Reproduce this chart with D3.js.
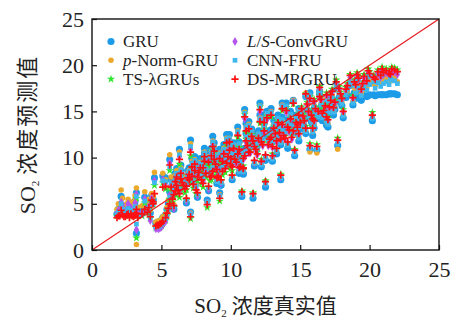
<!DOCTYPE html>
<html>
<head>
<meta charset="utf-8">
<script src="https://cdn.jsdelivr.net/npm/d3@7"></script>
<style>
  body { margin: 0; background: #fff; }
  svg { display: block; }
</style>
</head>
<body>
<svg id="chart" width="457" height="320"></svg>
<script>
// true SO2 concentration (shared by all models)
const true_vals = [
  1.8, 2.0, 2.1, 2.3, 2.5, 2.7, 2.8, 3.0, 3.1, 3.2, 3.2, 3.3,
  3.6, 3.8, 4.0, 4.2, 4.4, 4.4, 4.5, 4.7, 4.9, 5.1, 5.1, 5.4, 5.6,
  5.6, 5.8, 6.0, 6.1, 6.3, 6.3, 6.5, 6.7, 6.9, 7.0, 7.1, 7.1, 7.3, 7.5, 7.7, 7.9, 8.0, 8.1, 8.3, 8.5, 8.7, 8.7, 8.9, 9.1, 9.2, 9.4, 9.6, 9.8, 10.0,
  10.2, 10.4, 10.5, 10.7, 10.8, 11.0, 11.0, 11.2, 11.4, 11.6, 11.6, 11.8, 12.0, 12.1, 12.3, 12.5, 12.6, 12.8, 13.0, 13.2, 13.4, 13.6, 13.8, 14.0, 14.2, 14.4, 14.6, 14.8,
  15.0, 15.2, 15.4, 15.6, 15.7, 15.7, 15.9, 16.1, 16.2, 16.4, 16.6, 16.8, 17.0, 17.2, 17.4, 17.6, 17.7, 17.9, 18.1, 18.3, 18.6, 18.8,
  19.0, 19.2, 19.4, 19.6, 19.8, 20.0, 20.2, 20.4, 20.6, 20.8, 21.0, 21.2, 21.4, 21.6, 21.8, 22.0,
  1.9, 2.2, 2.4, 2.6, 2.9, 3.1,
  4.1, 4.3, 4.6, 4.8, 5.0, 5.3, 5.5,
  5.7, 5.9, 6.0, 6.2, 6.4, 6.6, 6.8, 7.0, 7.2, 7.4, 7.6, 7.8, 8.0, 8.2, 8.4, 8.6, 8.8, 9.0, 9.2, 9.4, 9.5, 9.7, 9.9, 10.0, 10.1,
  10.3, 10.6, 10.9, 11.1, 11.3, 11.5, 11.7, 11.9, 12.2, 12.4, 12.7, 12.9, 13.1, 13.3, 13.5, 13.7, 13.9, 14.1, 14.3, 14.5, 14.7, 14.9, 10.9, 12.2, 13.0,
  15.1, 15.3, 15.5, 15.8, 16.0, 16.3, 16.5, 16.7, 16.9, 17.1, 17.3, 17.5, 17.8, 18.0,
  18.4, 18.9, 19.1, 19.5, 19.9, 20.3, 20.9, 21.5,
  5.3, 5.9, 6.4, 6.8, 7.2, 7.6, 8.1, 8.4, 8.8, 9.3, 9.7, 10.1, 10.5, 10.9, 11.3, 11.7, 12.1, 12.5, 12.9, 13.3,
  13.7, 14.1, 14.5, 14.9, 15.4, 15.9, 16.4, 16.9, 6.1, 7.4, 8.6, 9.9, 11.1, 12.4, 13.6, 14.8, 16.0, 17.2, 9.0, 10.6
];

const gru = [
  3.9, 4.2, 5.8, 4.1, 4.4, 4.0, 4.5, 4.3, 4.8, 1.8, 6.2, 4.1,
  4.3, 5.7, 4.6, 4.0, 5.5, 5.3, 7.8, 3.0, 3.1, 3.5, 8.0, 4.4, 6.3,
  9.8, 6.3, 7.0, 7.6, 10.9, 6.8, 7.9, 7.4, 8.6, 8.9, 4.1, 11.9, 7.7, 7.2, 9.2, 8.5, 9.6, 10.5, 5.4, 8.7, 12.3, 9.4, 10.2, 8.9, 6.2, 10.5, 9.7, 11.1, 10.2,
  11.6, 10.3, 11.2, 9.8, 5.8, 15.2, 11.0, 12.0, 11.5, 5.6, 12.6, 11.8, 12.9, 15.9, 12.3, 6.8, 15.0, 12.9, 12.0, 13.4, 14.6, 7.6, 13.2, 15.9, 13.9, 13.0, 10.2, 14.4,
  13.1, 13.8, 12.6, 14.3, 17.0, 10.9, 13.5, 14.4, 10.8, 17.2, 14.0, 14.7, 13.3, 15.4, 14.6, 17.4, 11.3, 16.0, 14.3, 16.5, 17.8, 15.7,
  16.4, 16.6, 16.2, 16.7, 16.6, 16.8, 14.0, 16.7, 16.8, 16.8, 16.8, 16.8, 16.9, 16.9, 16.9, 16.8,
  4.4, 4.6, 4.3, 4.8, 4.2, 5.3,
  5.0, 5.9, 2.9, 3.0, 3.2, 3.8, 5.0,
  7.6, 6.8, 8.3, 7.3, 8.6, 7.9, 7.7, 8.4, 8.9, 9.5, 8.8, 9.9, 8.0, 9.3, 10.5, 9.0, 10.8, 9.7, 10.9, 9.5, 11.4, 10.4, 11.7, 10.8, 10.0,
  10.6, 11.7, 10.7, 12.6, 11.4, 13.1, 12.0, 11.2, 12.5, 13.7, 12.2, 13.0, 14.0, 12.6, 13.5, 14.4, 12.9, 14.1, 15.0, 13.7, 14.6, 15.3, 8.3, 9.0, 9.6,
  14.5, 13.3, 15.0, 13.9, 15.3, 14.2, 15.5, 14.3, 15.9, 14.7, 16.3, 15.2, 16.5, 15.6,
  16.8, 17.0, 17.2, 16.6, 16.7, 16.8, 16.8, 16.9,
  7.8, 4.4, 9.2, 5.1, 9.9, 5.7, 11.0, 6.4, 11.6, 7.0, 12.5, 7.6, 13.3, 8.2, 13.9, 9.1, 14.6, 9.7, 15.3, 10.4,
  15.9, 11.0, 16.2, 11.8, 16.6, 12.4, 16.8, 13.5, 8.8, 10.1, 11.0, 12.5, 13.7, 14.6, 11.4, 12.6, 13.2, 15.9, 7.2, 8.3
];

const p_norm_gru = [
  4.4, 4.8, 6.5, 4.6, 5.0, 4.5, 5.2, 4.9, 5.4, 0.6, 6.7, 4.6,
  4.8, 6.3, 5.2, 4.3, 5.8, 5.7, 8.4, 3.1, 3.2, 3.6, 8.3, 4.6, 6.8,
  10.3, 6.6, 7.2, 7.8, 10.6, 7.0, 8.0, 7.2, 8.3, 8.6, 4.0, 11.5, 7.5, 7.0, 8.9, 8.2, 9.3, 10.0, 5.2, 8.4, 11.8, 9.0, 9.8, 8.5, 6.0, 10.0, 9.3, 10.6, 9.7,
  11.3, 9.9, 10.8, 9.5, 6.2, 14.9, 10.6, 11.7, 11.1, 6.0, 12.2, 11.4, 12.5, 15.6, 11.9, 7.3, 14.7, 12.5, 11.6, 13.0, 14.2, 8.0, 12.8, 15.5, 13.5, 12.6, 10.6, 14.0,
  13.5, 14.2, 12.9, 14.6, 16.7, 10.6, 13.8, 14.8, 10.5, 16.9, 14.4, 15.1, 13.7, 15.8, 15.0, 17.8, 10.9, 16.5, 14.6, 17.0, 18.4, 16.1,
  17.3, 17.9, 16.9, 18.0, 17.6, 18.3, 14.3, 17.8, 18.5, 18.1, 18.4, 18.6, 18.3, 18.8, 18.7, 18.2,
  5.0, 5.6, 4.9, 5.5, 4.7, 5.9,
  5.5, 6.1, 3.0, 3.1, 3.3, 3.9, 5.4,
  7.9, 7.0, 8.1, 7.0, 8.3, 7.6, 7.4, 8.1, 8.6, 9.2, 8.5, 9.5, 7.7, 8.9, 10.1, 8.6, 10.4, 9.3, 10.5, 9.1, 11.0, 10.0, 11.3, 10.4, 9.6,
  10.3, 11.4, 10.4, 12.2, 11.0, 12.8, 11.6, 10.8, 12.1, 13.3, 11.8, 12.6, 13.6, 12.2, 13.1, 14.0, 12.5, 13.7, 14.6, 13.3, 14.2, 15.0, 8.7, 9.4, 10.0,
  14.9, 13.7, 15.4, 14.2, 15.7, 14.6, 15.9, 14.7, 16.4, 15.1, 16.8, 15.6, 17.1, 16.0,
  17.2, 17.6, 18.2, 17.3, 18.6, 18.0, 18.8, 18.3,
  7.6, 4.9, 8.9, 5.5, 9.6, 6.0, 10.6, 6.7, 11.2, 7.3, 12.1, 7.9, 12.9, 8.5, 13.6, 9.4, 14.3, 10.0, 15.0, 10.7,
  15.7, 11.4, 16.2, 12.2, 17.0, 12.8, 17.3, 13.9, 8.6, 9.8, 10.7, 12.1, 13.3, 14.2, 11.7, 12.9, 13.6, 16.3, 7.5, 8.6
];

const ts_lambda_grus = [
  3.7, 3.9, 4.6, 3.8, 4.0, 3.7, 4.1, 3.9, 4.2, 1.3, 5.6, 3.7,
  3.7, 5.1, 4.0, 3.4, 5.0, 4.9, 7.0, 2.5, 2.5, 2.8, 7.3, 3.7, 5.5,
  8.6, 5.2, 6.0, 6.6, 9.3, 5.7, 6.9, 6.2, 7.4, 7.8, 3.4, 10.2, 6.7, 6.1, 8.0, 7.2, 8.5, 9.2, 4.6, 7.5, 10.8, 8.1, 8.9, 7.6, 5.3, 9.2, 8.4, 9.7, 8.8,
  11.2, 9.7, 10.6, 9.3, 6.4, 14.7, 10.4, 11.5, 10.9, 6.2, 12.0, 11.1, 12.3, 15.5, 11.6, 7.5, 14.5, 12.2, 11.4, 12.8, 14.0, 8.2, 12.6, 15.4, 13.2, 12.4, 10.9, 13.8,
  14.0, 14.7, 13.4, 15.2, 16.6, 11.5, 14.4, 15.5, 11.4, 16.8, 15.0, 15.8, 14.3, 16.4, 15.6, 18.4, 12.1, 17.1, 15.2, 17.6, 19.0, 16.7,
  18.1, 18.8, 17.6, 19.0, 18.6, 19.3, 14.9, 18.8, 19.5, 19.1, 19.4, 19.6, 19.3, 19.8, 19.7, 19.5,
  3.9, 4.0, 3.8, 4.1, 3.9, 4.0,
  4.4, 5.2, 2.4, 2.4, 2.6, 3.2, 4.2,
  6.4, 5.7, 7.0, 6.1, 7.3, 6.6, 6.5, 7.2, 7.6, 8.2, 7.5, 8.5, 6.8, 7.9, 9.1, 7.6, 9.4, 8.3, 9.5, 8.1, 10.0, 9.0, 10.4, 9.5, 8.6,
  10.0, 11.1, 10.1, 12.0, 10.8, 12.5, 11.4, 10.6, 11.9, 13.1, 11.6, 12.4, 13.4, 12.0, 12.9, 13.8, 12.3, 13.5, 14.4, 13.1, 14.0, 14.8, 9.1, 9.8, 10.4,
  15.5, 14.2, 16.0, 14.8, 16.3, 15.2, 16.5, 15.3, 17.0, 15.7, 17.4, 16.2, 17.7, 16.6,
  18.0, 18.4, 19.2, 18.2, 19.6, 18.9, 19.8, 19.2,
  6.6, 4.6, 8.0, 5.4, 8.8, 6.0, 9.9, 6.8, 10.5, 7.5, 11.4, 8.0, 12.2, 8.7, 12.9, 9.6, 13.7, 10.2, 14.4, 10.9,
  15.1, 11.6, 15.8, 12.5, 16.9, 13.3, 17.7, 14.6, 7.6, 9.0, 9.9, 11.4, 12.7, 13.6, 12.1, 13.4, 14.2, 17.0, 7.9, 9.0
];

const ls_conv_gru = [
  4.0, 4.3, 5.2, 4.2, 4.4, 4.0, 4.6, 4.3, 4.7, 2.2, 6.0, 4.0,
  4.0, 5.5, 4.4, 3.2, 5.3, 5.1, 7.5, 2.4, 2.4, 2.7, 7.6, 3.6, 5.9,
  9.4, 5.8, 6.6, 7.2, 10.1, 6.3, 7.5, 6.8, 8.0, 8.4, 3.8, 10.9, 7.3, 6.7, 8.6, 7.8, 9.1, 9.9, 5.1, 8.1, 11.5, 8.7, 9.5, 8.2, 5.8, 9.8, 9.0, 10.3, 9.4,
  10.8, 9.4, 10.3, 9.0, 6.1, 14.2, 10.1, 11.2, 10.5, 6.0, 11.7, 10.8, 12.0, 15.0, 11.3, 7.2, 14.1, 11.9, 11.1, 12.5, 13.6, 7.9, 12.3, 14.9, 12.8, 12.0, 10.6, 13.4,
  13.7, 14.4, 13.1, 14.9, 16.3, 11.2, 14.1, 15.2, 11.1, 16.5, 14.7, 15.5, 14.0, 16.1, 15.3, 18.0, 11.8, 16.8, 14.9, 17.3, 18.7, 16.4,
  17.8, 18.4, 17.3, 18.6, 18.2, 18.9, 14.5, 18.4, 19.1, 18.7, 19.0, 19.2, 18.9, 19.4, 19.3, 19.0,
  4.3, 4.9, 4.2, 5.0, 4.3, 5.1,
  4.7, 5.6, 2.3, 2.3, 2.5, 3.1, 4.3,
  7.1, 6.3, 7.6, 6.7, 7.9, 7.2, 7.1, 7.8, 8.2, 8.8, 8.1, 9.1, 7.4, 8.5, 9.7, 8.2, 10.0, 8.9, 10.1, 8.7, 10.6, 9.6, 11.0, 10.1, 9.2,
  9.7, 10.8, 9.8, 11.7, 10.5, 12.2, 11.1, 10.3, 11.6, 12.8, 11.3, 12.1, 13.1, 11.7, 12.6, 13.5, 12.0, 13.2, 14.1, 12.8, 13.7, 14.5, 8.8, 9.5, 10.1,
  15.2, 13.9, 15.7, 14.5, 16.0, 14.9, 16.2, 15.0, 16.7, 15.4, 17.1, 15.9, 17.4, 16.3,
  17.7, 18.1, 18.8, 17.9, 19.2, 18.6, 19.4, 18.9,
  7.2, 4.5, 8.5, 5.3, 9.2, 5.9, 10.3, 6.6, 10.9, 7.3, 11.8, 7.9, 12.6, 8.6, 13.3, 9.5, 14.1, 10.1, 14.8, 10.8,
  15.5, 11.5, 16.0, 12.4, 16.8, 13.0, 17.4, 14.2, 8.1, 9.5, 10.4, 11.9, 13.1, 14.0, 11.8, 13.1, 13.8, 16.6, 7.6, 8.7
];

const cnn_fru = [
  3.8, 4.1, 5.0, 4.0, 4.2, 3.8, 4.3, 4.1, 4.5, 2.8, 5.8, 3.8,
  3.8, 5.3, 4.2, 3.5, 5.1, 5.0, 7.3, 2.6, 2.6, 3.0, 7.5, 3.8, 5.7,
  9.0, 5.9, 6.7, 7.3, 10.3, 6.5, 7.6, 7.0, 8.2, 8.5, 3.9, 11.2, 7.4, 6.9, 8.8, 8.0, 9.3, 10.1, 5.2, 8.3, 11.7, 8.9, 9.8, 8.5, 5.9, 10.1, 9.3, 10.6, 9.7,
  11.4, 10.0, 10.9, 9.6, 6.0, 14.8, 10.7, 11.8, 11.2, 5.9, 12.3, 11.5, 12.6, 15.6, 12.0, 7.1, 14.8, 12.6, 11.7, 13.1, 14.3, 7.8, 12.9, 15.6, 13.6, 12.7, 10.4, 14.1,
  13.3, 14.0, 12.8, 14.5, 16.8, 11.0, 13.7, 14.7, 10.9, 17.0, 14.3, 15.0, 13.6, 15.7, 14.9, 17.7, 11.5, 16.3, 14.5, 16.8, 18.1, 15.9,
  17.0, 17.5, 16.7, 17.7, 17.3, 17.9, 14.2, 17.5, 18.1, 17.7, 18.0, 18.2, 17.9, 18.4, 18.3, 18.0,
  4.1, 4.4, 4.0, 4.5, 4.0, 4.7,
  4.5, 5.4, 2.5, 2.5, 2.8, 3.4, 4.4,
  7.3, 6.5, 7.8, 6.9, 8.1, 7.4, 7.3, 8.0, 8.5, 9.1, 8.4, 9.4, 7.7, 8.8, 10.0, 8.5, 10.3, 9.2, 10.4, 9.0, 10.9, 9.9, 11.3, 10.4, 9.5,
  10.4, 11.5, 10.5, 12.3, 11.1, 12.9, 11.7, 10.9, 12.2, 13.4, 11.9, 12.7, 13.7, 12.3, 13.2, 14.1, 12.6, 13.8, 14.7, 13.4, 14.3, 15.1, 8.5, 9.2, 9.8,
  14.7, 13.5, 15.2, 14.0, 15.5, 14.4, 15.7, 14.5, 16.1, 14.9, 16.5, 15.4, 16.8, 15.8,
  17.4, 17.8, 18.4, 17.5, 18.8, 18.2, 19.0, 18.5,
  7.4, 4.7, 8.7, 5.4, 9.4, 6.0, 10.5, 6.7, 11.1, 7.3, 12.0, 7.8, 12.8, 8.5, 13.5, 9.4, 14.2, 10.0, 14.9, 10.7,
  15.6, 11.3, 16.1, 12.1, 16.7, 12.8, 17.1, 13.9, 8.3, 9.7, 10.6, 12.1, 13.3, 14.2, 11.6, 12.9, 13.5, 16.2, 7.4, 8.5
];

const ds_mrgru = [
  3.5, 3.7, 4.3, 3.6, 3.8, 3.5, 3.9, 3.6, 3.8, 4.0, 4.4, 3.5,
  3.9, 4.4, 4.1, 3.6, 5.2, 5.0, 6.1, 2.7, 2.8, 3.1, 6.8, 4.0, 5.0,
  9.2, 5.5, 6.4, 7.0, 9.8, 6.1, 7.3, 6.6, 7.8, 8.2, 3.6, 10.6, 7.1, 6.5, 8.4, 7.6, 8.9, 9.6, 4.9, 7.9, 11.2, 8.5, 9.3, 8.0, 5.6, 9.6, 8.8, 10.1, 9.2,
  11.0, 9.5, 10.4, 9.0, 6.3, 14.4, 10.2, 11.3, 10.6, 6.1, 11.8, 10.9, 12.1, 15.2, 11.4, 7.4, 14.3, 12.0, 11.2, 12.6, 13.8, 8.1, 12.4, 15.1, 13.0, 12.2, 10.8, 13.6,
  13.8, 14.5, 13.2, 15.0, 16.4, 11.3, 14.2, 15.3, 11.2, 16.6, 14.8, 15.6, 14.1, 16.2, 15.4, 18.2, 11.9, 16.9, 15.0, 17.4, 18.9, 16.5,
  17.9, 18.6, 17.4, 18.8, 18.3, 19.1, 14.6, 18.5, 19.3, 18.9, 19.2, 19.4, 19.1, 19.6, 19.5, 19.3,
  3.7, 3.8, 3.6, 3.9, 3.7, 3.8,
  4.6, 5.4, 2.6, 2.7, 2.9, 3.5, 4.5,
  6.8, 6.0, 7.4, 6.5, 7.7, 7.0, 6.9, 7.6, 8.0, 8.6, 7.9, 8.9, 7.2, 8.3, 9.5, 8.0, 9.8, 8.7, 9.9, 8.5, 10.4, 9.4, 10.8, 9.9, 9.0,
  9.8, 10.9, 9.9, 11.8, 10.6, 12.3, 11.2, 10.4, 11.7, 12.9, 11.4, 12.2, 13.2, 11.8, 12.7, 13.6, 12.1, 13.3, 14.2, 12.9, 13.8, 14.6, 8.9, 9.6, 10.2,
  15.3, 14.0, 15.8, 14.6, 16.1, 15.0, 16.3, 15.1, 16.8, 15.5, 17.2, 16.0, 17.5, 16.4,
  17.8, 18.2, 19.0, 18.0, 19.4, 18.7, 19.6, 19.0,
  6.9, 4.8, 8.3, 5.6, 9.0, 6.2, 10.1, 6.9, 10.7, 7.6, 11.6, 8.1, 12.4, 8.8, 13.1, 9.7, 13.9, 10.3, 14.6, 11.0,
  15.3, 11.7, 15.9, 12.6, 16.9, 13.2, 17.6, 14.4, 7.9, 9.3, 10.2, 11.7, 12.9, 13.8, 12.0, 13.3, 14.0, 16.8, 7.8, 8.9
];

const tick_vals = [0, 5, 10, 15, 20, 25];

const series = [
  { name: 'GRU', values: gru, color: '#1b9be8', shape: 'circle', size: 40 },
  { name: 'p-Norm-GRU', values: p_norm_gru, color: '#eaa92c', shape: 'circle', size: 24 },
  { name: 'TS-λGRUs', values: ts_lambda_grus, color: '#2ee82e', shape: 'star', size: 22 },
  { name: 'L/S-ConvGRU', values: ls_conv_gru, color: '#b455ee', shape: 'diamond', size: 24 },
  { name: 'CNN-FRU', values: cnn_fru, color: '#3cb8ee', shape: 'square', size: 22 },
  { name: 'DS-MRGRU', values: ds_mrgru, color: '#ff1010', shape: 'plus', size: 0 }
];

const area = { left: 92, right: 439, top: 19, bottom: 250 };
const x_scale = d3.scaleLinear().domain([0, 25]).range([area.left, area.right]);
const y_scale = d3.scaleLinear().domain([0, 25]).range([area.bottom, area.top]);

const svg = d3.select('#chart');
const serif = '"Liberation Serif", "DejaVu Serif", serif';
const cjk = '"Noto Sans CJK SC", sans-serif';

function symbol_path(shape, size) {
  const types = {
    circle: d3.symbolCircle,
    star: d3.symbolStar,
    diamond: d3.symbolDiamond,
    square: d3.symbolSquare
  };
  return d3.symbol().type(types[shape]).size(size)();
}

function draw_marker(g, s, x, y) {
  if (s.shape === 'plus') {
    g.append('path')
      .attr('d', `M${x - 3.6},${y}H${x + 3.6}M${x},${y - 3.6}V${y + 3.6}`)
      .attr('stroke', s.color)
      .attr('stroke-width', 1.7)
      .attr('fill', 'none');
  } else {
    g.append('path')
      .attr('d', symbol_path(s.shape, s.size))
      .attr('transform', `translate(${x},${y})`)
      .attr('fill', s.color);
  }
}

// points
const points = svg.append('g');
series.forEach(s => {
  const g = points.append('g');
  s.values.forEach((v, i) => draw_marker(g, s, x_scale(true_vals[i]), y_scale(v)));
});

// 1:1 line
svg.append('line')
  .attr('x1', x_scale(0)).attr('y1', y_scale(0))
  .attr('x2', x_scale(25)).attr('y2', y_scale(25))
  .attr('stroke', '#e8161b')
  .attr('stroke-width', 1.1);

// axes, ticks inward
const x_axis = d3.axisBottom(x_scale).tickValues(tick_vals).tickSizeInner(-5).tickSizeOuter(0).tickPadding(11);
const y_axis = d3.axisLeft(y_scale).tickValues(tick_vals).tickSizeInner(-5).tickSizeOuter(0).tickPadding(8);

const gx = svg.append('g')
  .attr('transform', `translate(0,${area.bottom})`)
  .call(x_axis);
const gy = svg.append('g')
  .attr('transform', `translate(${area.left},0)`)
  .call(y_axis);

[gx, gy].forEach(g => {
  g.select('.domain').remove();
  g.selectAll('.tick line').attr('stroke', '#111').attr('stroke-width', 1.2);
  g.selectAll('.tick text')
    .attr('fill', '#222')
    .style('font-family', serif)
    .style('font-size', '22px');
});
gx.selectAll('.tick text').attr('dy', '0.71em');

// frame
svg.append('rect')
  .attr('x', area.left).attr('y', area.top)
  .attr('width', area.right - area.left)
  .attr('height', area.bottom - area.top)
  .attr('fill', 'none')
  .attr('stroke', '#111')
  .attr('stroke-width', 1.4);

// axis titles
const x_title = svg.append('text')
  .attr('x', (area.left + area.right) / 2)
  .attr('y', 313)
  .attr('text-anchor', 'middle')
  .attr('fill', '#222')
  .style('font-size', '21px');
x_title.append('tspan').style('font-family', serif).text('SO');
x_title.append('tspan').style('font-family', serif).style('font-size', '11px').attr('dy', 4).text('2');
x_title.append('tspan').style('font-family', cjk).attr('dy', -4).attr('dx', 5).text('浓度真实值');

const y_title = svg.append('text')
  .attr('transform', `translate(35,${(area.top + area.bottom) / 2}) rotate(-90)`)
  .attr('text-anchor', 'middle')
  .attr('fill', '#222')
  .style('font-size', '22px');
y_title.append('tspan').style('font-family', serif).text('SO');
y_title.append('tspan').style('font-family', serif).style('font-size', '11px').attr('dy', 4).text('2');
y_title.append('tspan').style('font-family', cjk).attr('dy', -4).attr('dx', 6).style('letter-spacing', '2px').text('浓度预测值');

// legend
const legend_items = [
  { s: series[0], col: 0, row: 0, parts: [['GRU', false]] },
  { s: series[1], col: 0, row: 1, parts: [['p', true], ['-Norm-GRU', false]] },
  { s: series[2], col: 0, row: 2, parts: [['TS-λGRUs', false]] },
  { s: series[3], col: 1, row: 0, parts: [['L', true], ['/', false], ['S', true], ['-ConvGRU', false]] },
  { s: series[4], col: 1, row: 1, parts: [['CNN-FRU', false]] },
  { s: series[5], col: 1, row: 2, parts: [['DS-MRGRU', false]] }
];
const legend = svg.append('g');
legend_items.forEach(d => {
  const mx = d.col === 0 ? 111 : 235;
  const my = 41.5 + d.row * 18.8;
  draw_marker(legend, d.s, mx, my);
  const t = legend.append('text')
    .attr('x', mx + 12)
    .attr('y', my + 5.5)
    .attr('fill', '#222')
    .style('font-family', serif)
    .style('font-size', '17px');
  d.parts.forEach(p => {
    t.append('tspan').style('font-style', p[1] ? 'italic' : 'normal').text(p[0]);
  });
});
</script>
</body>
</html>
